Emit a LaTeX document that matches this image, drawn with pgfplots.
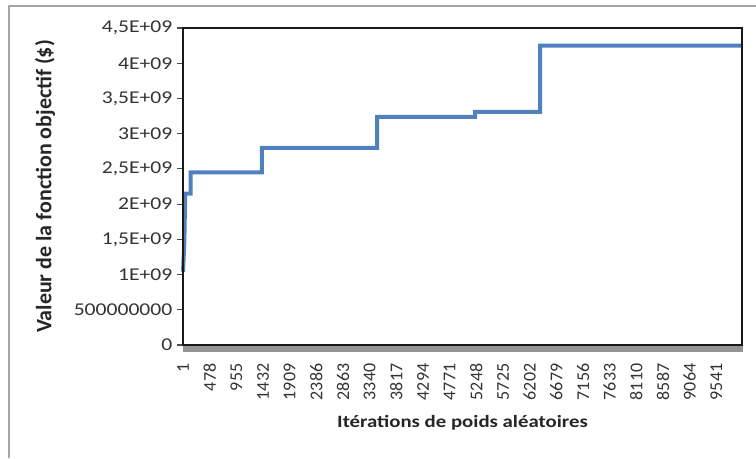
\documentclass[border=0pt]{standalone}
\usepackage{fontspec}
\setmainfont{Carlito}
\newfontfamily\widefont[FakeStretch=1.2]{Carlito}
\usepackage{pgfplots}
\pgfplotsset{compat=1.18}
\definecolor{serie}{HTML}{4F81BD}

\begin{document}
\begin{tikzpicture}
\useasboundingbox (0,0) rectangle (567pt,343.5pt);
% outer chart frame (only top and left edges visible)
\draw[black!35,line width=1.2pt] (6.75pt,0) -- (6.75pt,339pt) -- (567pt,339pt);
\begin{axis}[
  at={(137.25pt,84.75pt)}, anchor=south west,
  scale only axis, width=419.25pt, height=237.75pt,
  xmin=1, xmax=10000, ymin=0, ymax=4.5,
  clip=false, scaled x ticks=false, scaled y ticks=false,
  axis line style={black,line width=0.9pt},
  xtick={1,478,955,1432,1909,2386,2863,3340,3817,4294,4771,5248,5725,6202,6679,7156,7633,8110,8587,9064,9541},
  xticklabels={1,478,955,1432,1909,2386,2863,3340,3817,4294,4771,5248,5725,6202,6679,7156,7633,8110,8587,9064,9541},
  ytick={0,0.5,1,1.5,2,2.5,3,3.5,4,4.5},
  yticklabels={0,500000000,1E+09,{1,5E+09},2E+09,{2,5E+09},3E+09,{3,5E+09},4E+09,{4,5E+09}},
  xtick pos=bottom, ytick pos=left,
  tick align=outside, major tick length=4.5pt,
  x tick style={draw=none},
  y tick style={black!70,line width=0.8pt},
  xticklabel style={yshift=-6pt,rotate=90,anchor=east,font=\fontsize{13.5}{15}\selectfont,text=black!80},
  yticklabel style={font=\widefont\fontsize{13.5}{15}\selectfont,text=black!80},
  xlabel={Itérations de poids aléatoires},
  xlabel style={font=\widefont\bfseries\fontsize{13}{15}\selectfont,at={(axis description cs:0.5,-0.2461)},anchor=center,text=black!85},
  ylabel={Valeur de la fonction objectif (\$)},
  ylabel style={font=\bfseries\fontsize{16.5}{18}\selectfont,at={(axis description cs:-0.2469,0.5)},anchor=center,text=black!85},
]
\fill[black!42] (axis cs:1,0) rectangle ([yshift=-5.25pt,xshift=0.75pt]axis cs:10000,0);
\addplot[serie,line width=3pt,line join=miter] coordinates {
  (1,1.04) (25,1.45) (40,2.15) (138,2.15) (138,2.45) (1414,2.45) (1414,2.80)
  (3472,2.80) (3472,3.24) (5226,3.24) (5226,3.31) (6390,3.31) (6390,4.25) (10000,4.25)
};
\end{axis}
% plot-area frame
\draw[black!90,line width=1.5pt] (137.25pt,84.75pt) rectangle (556.5pt,322.5pt);
\end{tikzpicture}
\end{document}
